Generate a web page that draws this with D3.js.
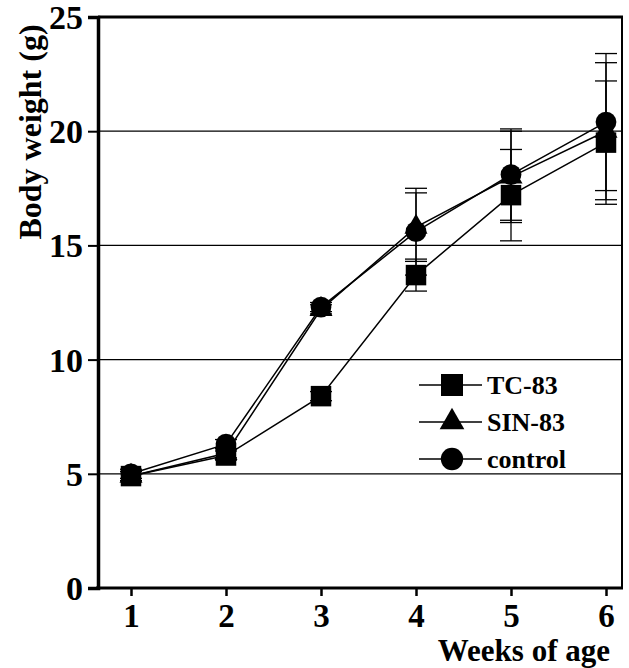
<!DOCTYPE html>
<html>
<head>
<meta charset="utf-8">
<script src="https://cdn.jsdelivr.net/npm/d3@7"></script>
<style>
  body { margin: 0; background: #fff; }
</style>
</head>
<body>
<svg id="chart" width="629" height="668"></svg>
<script>
// DATA
var weeks = [1, 2, 3, 4, 5, 6];
var tc83 = [4.9, 5.8, 8.4, 13.7, 17.2, 19.5];
var tc83Err = [0.2, 0.2, 0.2, 0.7, 2.0, 2.7];
var sin83 = [4.9, 5.9, 12.2, 15.8, 18.0, 20.0];
var sin83Err = [0.2, 0.2, 0.2, 1.5, 2.0, 3.0];
var control = [5.0, 6.3, 12.3, 15.6, 18.1, 20.4];
var controlErr = [0.2, 0.2, 0.2, 1.9, 2.0, 3.0];
var yTicks = [0, 5, 10, 15, 20, 25];
var gridValues = [5, 10, 15, 20];
var seriesNames = ["TC-83", "SIN-83", "control"];

var series = [
  { name: seriesNames[0], values: tc83, err: tc83Err, shape: "square" },
  { name: seriesNames[1], values: sin83, err: sin83Err, shape: "triangle" },
  { name: seriesNames[2], values: control, err: controlErr, shape: "circle" }
];

var FONT = "'Liberation Serif', 'Times New Roman', serif";

var svg = d3.select("#chart");

// scales
var x = d3.scaleLinear().domain([1, 6]).range([131, 606]);
var y = d3.scaleLinear().domain([0, 25]).range([588, 17]);
var left = 98, right = 622;

// grid lines
svg.selectAll(".grid").data(gridValues).enter().append("line")
  .attr("x1", left).attr("x2", right)
  .attr("y1", function (d) { return y(d); }).attr("y2", function (d) { return y(d); })
  .attr("stroke", "#000").attr("stroke-width", 1.3);

// frame: top and right
svg.append("line").attr("x1", left).attr("x2", right + 1).attr("y1", y(25)).attr("y2", y(25))
  .attr("stroke", "#000").attr("stroke-width", 3);
svg.append("line").attr("x1", right).attr("x2", right).attr("y1", y(25)).attr("y2", y(0))
  .attr("stroke", "#000").attr("stroke-width", 2);

// y axis
var yAxis = d3.axisLeft(y).tickValues(yTicks).tickFormat(d3.format("d")).tickSize(10).tickPadding(5);
var gy = svg.append("g").attr("transform", "translate(" + left + ",0)").call(yAxis);
gy.select(".domain").attr("stroke-width", 3.5);
gy.selectAll(".tick line").attr("stroke-width", 2);
gy.selectAll(".tick text").style("font-family", FONT).style("font-weight", "bold")
  .style("font-size", "34px").attr("fill", "#000").attr("dy", "0.34em");

// x axis
var xAxis = d3.axisBottom(x).tickValues(weeks).tickFormat(d3.format("d")).tickSize(8).tickPadding(5).tickSizeOuter(0);
var gx = svg.append("g").attr("transform", "translate(0," + y(0) + ")").call(xAxis);
gx.select(".domain").attr("d", "M" + (left - 2) + ",0H" + (right + 1)).attr("stroke-width", 3);
gx.selectAll(".tick line").attr("stroke-width", 2.5);
gx.selectAll(".tick text").style("font-family", FONT).style("font-weight", "bold")
  .style("font-size", "33px").attr("fill", "#000").attr("dy", "0.8em");

// axis titles
svg.append("text").attr("x", 610).attr("y", 661).attr("text-anchor", "end")
  .style("font-family", FONT).style("font-weight", "bold")
  .style("font-size", "31px").text("Weeks of age");
svg.append("text").attr("transform", "translate(41,132) rotate(-90)").attr("text-anchor", "middle")
  .style("font-family", FONT).style("font-weight", "bold")
  .style("font-size", "32px").text("Body weight (g)");

// lines
var line = d3.line().x(function (d, i) { return x(weeks[i]); }).y(function (d) { return y(d); });
svg.selectAll(".series").data(series).enter().append("path")
  .attr("d", function (s) { return line(s.values); })
  .attr("fill", "none").attr("stroke", "#000").attr("stroke-width", 1.5);

// error bars
series.forEach(function (s) {
  s.values.forEach(function (v, i) {
    var cx = x(weeks[i]);
    var g = svg.append("g").attr("stroke", "#000").attr("stroke-width", 1.3);
    g.append("line").attr("x1", cx).attr("x2", cx).attr("y1", y(v + s.err[i])).attr("y2", y(v - s.err[i]));
    [v + s.err[i], v - s.err[i]].forEach(function (e) {
      g.append("line").attr("x1", cx - 11).attr("x2", cx + 11).attr("y1", y(e)).attr("y2", y(e));
    });
  });
});

// markers
function markerPath(shape, big) {
  var k = big ? 1.15 : 1;
  if (shape === "square") return d3.symbol().type(d3.symbolSquare).size(420 * k)();
  if (shape === "triangle") return d3.symbol().type(d3.symbolTriangle).size(230 * k)();
  return d3.symbol().type(d3.symbolCircle).size(340 * k)();
}
series.forEach(function (s) {
  svg.selectAll(null).data(s.values).enter().append("path")
    .attr("d", markerPath(s.shape, false))
    .attr("transform", function (d, i) { return "translate(" + x(weeks[i]) + "," + y(d) + ")"; })
    .attr("fill", "#000");
});

// legend
var legend = svg.append("g").attr("transform", "translate(419,385)");
series.forEach(function (s, i) {
  var row = legend.append("g").attr("transform", "translate(0," + (i * 37) + ")");
  row.append("line").attr("x1", 0).attr("x2", 63).attr("y1", 0).attr("y2", 0)
    .attr("stroke", "#000").attr("stroke-width", 1.5);
  row.append("path").attr("d", markerPath(s.shape, true)).attr("transform", "translate(33,0)").attr("fill", "#000");
  row.append("text").attr("x", 68).attr("y", 0).attr("dy", "0.35em")
    .style("font-family", FONT).style("font-weight", "bold")
    .style("font-size", "26px").text(s.name);
});
</script>
</body>
</html>
